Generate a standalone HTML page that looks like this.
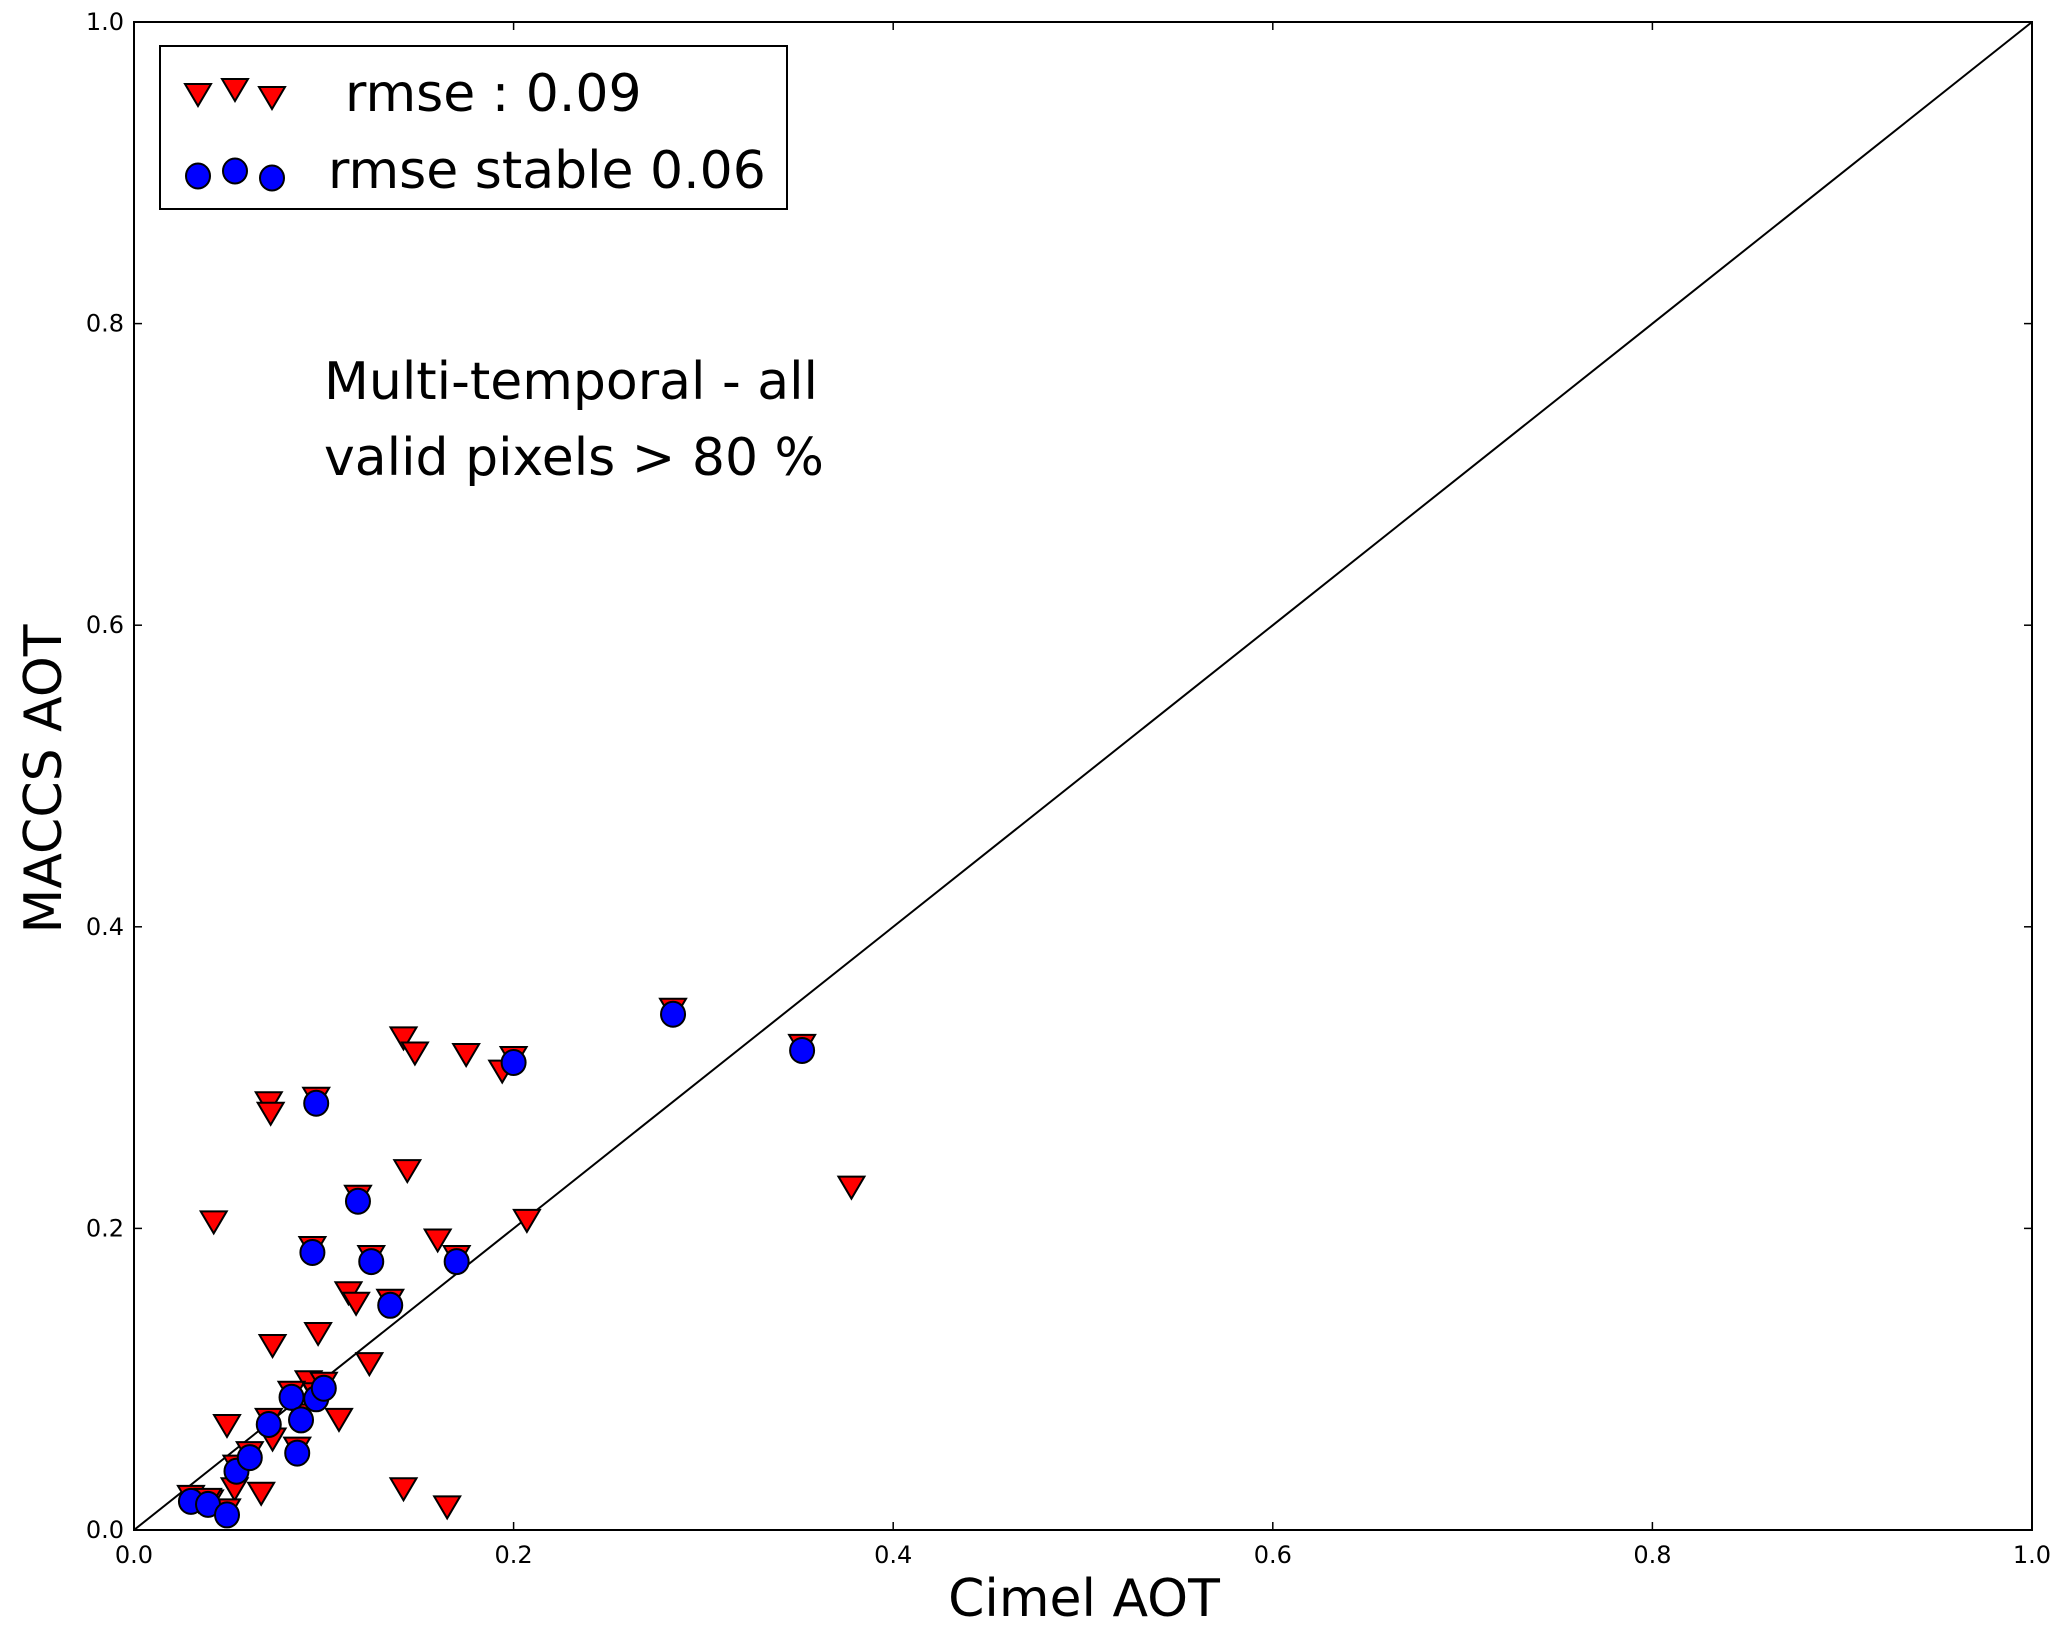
<!DOCTYPE html>
<html><head><meta charset="utf-8"><style>
body{margin:0;background:#fff}
svg{display:block;font-family:"DejaVu Sans","Liberation Sans",sans-serif}
</style></head><body>
<svg id="chart" width="2068" height="1631">
<rect x="0" y="0" width="2068" height="1631" fill="#fff"/>
<g id="marks"></g>
<rect x="134" y="22" width="1898" height="1508" fill="none" stroke="#000" stroke-width="2"/>
<g id="ticks"></g>
<g>
<rect x="160" y="46" width="627" height="163" fill="#fff" stroke="#000" stroke-width="2"/>
<g id="legmarks"></g>
<text x="345" y="111" font-size="52">rmse : 0.09</text>
<text x="328" y="188" font-size="52">rmse stable 0.06</text>
</g>
<text x="324" y="399" font-size="52">Multi-temporal - all</text>
<text x="324" y="475" font-size="52">valid pixels &gt; 80 %</text>
<text x="1084" y="1616" font-size="52" text-anchor="middle">Cimel AOT</text>
<text x="0" y="0" font-size="52" text-anchor="middle" transform="translate(61,779) rotate(-90)">MACCS AOT</text>
</svg>
<script>
const ticks = [0.0, 0.2, 0.4, 0.6, 0.8, 1.0];
const tickLabels = ["0.0", "0.2", "0.4", "0.6", "0.8", "1.0"];
const redX = [0.034,0.040,0.042,0.049,0.053,0.067,0.071,0.072,0.073,0.073,0.092,0.097,0.108,0.113,0.117,0.124,0.142,0.142,0.144,0.148,0.160,0.165,0.175,0.194,0.207,0.378,
  0.030,0.039,0.049,0.054,0.061,0.071,0.083,0.086,0.088,0.096,0.100,0.094,0.096,0.118,0.125,0.135,0.170,0.200,0.284,0.352];
const redY = [0.019,0.019,0.204,0.069,0.027,0.024,0.283,0.276,0.122,0.060,0.098,0.130,0.073,0.157,0.150,0.110,0.326,0.027,0.238,0.316,0.192,0.015,0.315,0.304,0.205,0.227,
  0.022,0.020,0.013,0.042,0.051,0.073,0.091,0.054,0.076,0.090,0.097,0.187,0.286,0.221,0.181,0.152,0.181,0.313,0.345,0.321];
const blueX = [0.030,0.039,0.049,0.054,0.061,0.071,0.083,0.086,0.088,0.096,0.100,0.094,0.096,0.118,0.125,0.135,0.170,0.200,0.284,0.352];
const blueY = [0.019,0.017,0.010,0.039,0.048,0.070,0.088,0.051,0.073,0.087,0.094,0.184,0.283,0.218,0.178,0.149,0.178,0.310,0.342,0.318];
const L=134,R=2032,T=22,B=1530;
const NS="http://www.w3.org/2000/svg";
function sx(v){return L+v*(R-L);}
function sy(v){return B-v*(B-T);}
function mk(tag,attrs,parent){const e=document.createElementNS(NS,tag);for(const k in attrs)e.setAttribute(k,attrs[k]);parent.appendChild(e);return e;}
function tri(x,y,p){const w=13,h=22;return mk('polygon',{points:`${x-w},${y-h/2} ${x+w},${y-h/2} ${x},${y+h/2}`,fill:'#f00',stroke:'#000','stroke-width':2},p);}
function circ(x,y,p){return mk('ellipse',{cx:x,cy:y,rx:12,ry:12.5,fill:'#00f',stroke:'#000','stroke-width':2},p);}
const marks=document.getElementById('marks');
const dl=mk('line',{x1:sx(0),y1:sy(0),x2:sx(1),y2:sy(1),stroke:'#000','stroke-width':2},marks);


for(let i=0;i<redX.length;i++){const t=tri(sx(redX[i]),sy(redY[i]),marks);

}
for(let i=0;i<blueX.length;i++){const c=circ(sx(blueX[i]),sy(blueY[i]),marks);

}
const tg=document.getElementById('ticks');
ticks.forEach((v,i)=>{
  const x=sx(v),y=sy(v);
  mk('line',{x1:x,y1:B,x2:x,y2:B-8,stroke:'#000','stroke-width':1.5},tg);
  mk('line',{x1:x,y1:T,x2:x,y2:T+8,stroke:'#000','stroke-width':1.5},tg);
  mk('line',{x1:L,y1:y,x2:L+8,y2:y,stroke:'#000','stroke-width':1.5},tg);
  mk('line',{x1:R,y1:y,x2:R-8,y2:y,stroke:'#000','stroke-width':1.5},tg);
  const xt=mk('text',{x:x,y:1563,'font-size':24,'text-anchor':'middle'},tg);xt.textContent=tickLabels[i];
  
  
  const yt=mk('text',{x:124,y:y+8,'font-size':24,'text-anchor':'end'},tg);yt.textContent=tickLabels[i];
  
  
});
const lg=document.getElementById('legmarks');
[[198,95],[235,90],[272,98]].forEach(p=>{tri(p[0],p[1],lg);});
[[198,176],[235,171],[272,178]].forEach(p=>{circ(p[0],p[1],lg);});
</script>
</body></html>
